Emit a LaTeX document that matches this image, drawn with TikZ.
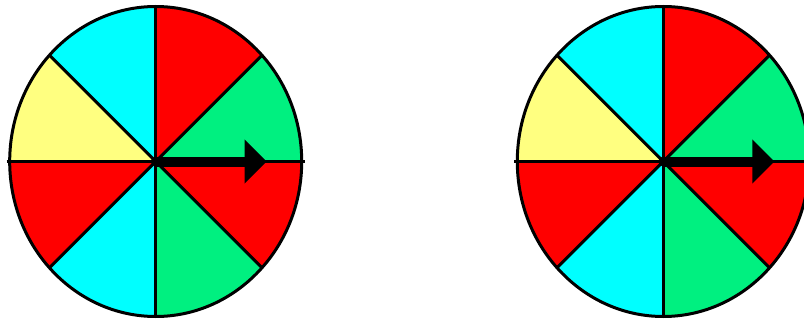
\documentclass[tikz,border=0pt]{standalone}
\definecolor{spinred}{RGB}{255,0,0}
\definecolor{spincyan}{RGB}{0,255,255}
\definecolor{spingreen}{RGB}{0,240,128}
\definecolor{spinyellow}{RGB}{255,255,128}
\begin{document}
\begin{tikzpicture}[x=1pt,y=1pt,
  spinline/.style={line width=3pt,black},
  spinrim/.style={line width=3pt,black}]
\useasboundingbox (0,0) rectangle (804,322);
\clip (0,0) rectangle (804,322);
\foreach \cx in {155.7,663.3}{
  \begin{scope}[shift={(\cx,160.5)}]
    \begin{scope}
      \clip (0,0) ellipse [x radius=146, y radius=155];
      \foreach \a/\c in {0/spingreen,45/spinred,90/spincyan,135/spinyellow,180/spinred,225/spincyan,270/spingreen,315/spinred}{
        \fill[\c] (0,0) -- (\a:300) -- ({\a+45}:300) -- cycle;
      }
      \draw[spinline] (0,-160) -- (0,160);
      \draw[spinline] (45:240) -- (225:240);
      \draw[spinline] (135:240) -- (315:240);
    \end{scope}
    \draw[spinline] (-149,0) -- (149,0);
    \draw[spinrim] (0,0) ellipse [x radius=146, y radius=155];
    \fill[black] (0,-5) rectangle (90,5);
    \fill[black] (89,22) -- (111,0) -- (89,-22) -- cycle;
    \fill[black] (0,0) circle (5);
  \end{scope}
}
\end{tikzpicture}
\end{document}
